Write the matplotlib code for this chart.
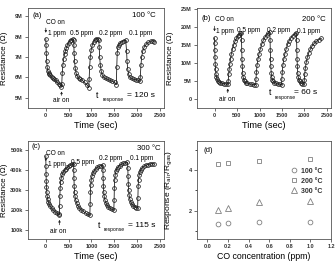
import matplotlib
matplotlib.use("Agg")
import matplotlib.pyplot as plt

plt.rcParams['font.family'] = ['Liberation Sans', 'DejaVu Sans']

# ---------------- data ----------------
# (a) 100 C, resistance in M-ohm
t_a = [0, 5, 10, 20, 30, 45, 60, 80, 100, 130, 160, 190, 220, 250, 280, 310, 340,
       350, 360, 375, 390, 410, 430, 450, 475, 500, 530, 560, 590, 610,
       615, 620, 630, 645, 665, 690, 720, 760, 800, 850, 900, 940,
       950, 960, 975, 995, 1020, 1050, 1080, 1110, 1140, 1160,
       1170, 1180, 1195, 1215, 1240, 1270, 1310, 1360, 1410, 1460, 1510, 1545,
       1555, 1565, 1580, 1600, 1630, 1670, 1710, 1750,
       1770, 1780, 1795, 1815, 1840, 1880, 1930, 1980, 2030, 2060,
       2070, 2085, 2100, 2125, 2160, 2200, 2250, 2300, 2350, 2380]
r_a = [7.9, 7.6, 7.2, 6.8, 6.5, 6.3, 6.2, 6.15, 6.1, 6.0, 5.95, 5.9, 5.85, 5.75, 5.7, 5.65, 5.55,
       5.7, 6.2, 6.6, 6.9, 7.15, 7.3, 7.45, 7.6, 7.7, 7.8, 7.85, 7.88, 7.85,
       7.6, 7.2, 6.8, 6.45, 6.2, 6.05, 5.95, 5.9, 5.85, 5.75, 5.65, 5.5,
       5.9, 6.5, 7.0, 7.35, 7.6, 7.75, 7.85, 7.9, 7.9, 7.85,
       7.5, 7.0, 6.6, 6.3, 6.1, 6.0, 5.95, 5.9, 5.85, 5.8, 5.75, 5.65,
       6.5, 7.2, 7.5, 7.6, 7.7, 7.75, 7.8, 7.82,
       7.3, 6.8, 6.4, 6.15, 6.0, 5.95, 5.9, 5.88, 5.85, 5.8,
       6.0, 6.6, 7.0, 7.3, 7.5, 7.62, 7.72, 7.78, 7.8, 7.75]

# (b) 200 C, resistance in M-ohm
t_b = [0, 3, 6, 10, 15, 22, 30, 40, 55, 75, 100, 130, 170, 210, 250, 295,
       305, 315, 325, 340, 355, 375, 400, 425, 455, 485, 515, 545, 575, 595,
       600, 605, 610, 617, 625, 635, 650, 670, 695, 730, 780, 830, 880, 915,
       922, 932, 945, 965, 990, 1020, 1050, 1085, 1120, 1160, 1200, 1230,
       1235, 1240, 1245, 1252, 1260, 1270, 1285, 1305, 1330, 1365, 1410, 1450, 1490,
       1497, 1507, 1520, 1540, 1565, 1595, 1625, 1660, 1700, 1740, 1780, 1820,
       1825, 1830, 1835, 1842, 1850, 1860, 1875, 1895, 1920, 1950, 1990,
       1997, 2007, 2020, 2040, 2065, 2095, 2130, 2170, 2215, 2265, 2320, 2375]
r_b = [17.0, 15.5, 13.5, 11.5, 9.8, 8.2, 7.0, 6.1, 5.4, 5.0, 4.7, 4.5, 4.3, 4.2, 4.1, 4.0,
       5.0, 6.8, 8.2, 9.8, 11.2, 12.6, 14.0, 15.0, 16.0, 16.8, 17.4, 17.9, 18.2, 18.4,
       16.5, 13.5, 11.0, 9.0, 7.3, 6.1, 5.3, 4.8, 4.5, 4.3, 4.1, 4.0, 3.9, 3.9,
       5.5, 7.5, 9.3, 11.0, 12.6, 14.0, 15.2, 16.3, 17.1, 17.8, 18.3, 18.5,
       16.5, 13.5, 11.0, 9.0, 7.3, 6.1, 5.3, 4.8, 4.5, 4.3, 4.1, 4.0, 3.9,
       5.5, 7.5, 9.3, 11.0, 12.6, 14.0, 15.2, 16.2, 17.0, 17.6, 18.0, 18.3,
       16.5, 13.5, 11.0, 9.0, 7.3, 6.1, 5.3, 4.8, 4.4, 4.2, 4.0,
       5.3, 7.0, 8.6, 10.2, 11.6, 12.8, 13.8, 14.7, 15.4, 16.0, 16.5, 16.8]

# (c) 300 C, resistance in k-ohm
t_c = [0, 3, 6, 10, 15, 22, 30, 40, 55, 75, 100, 130, 165, 200, 240, 280, 298,
       303, 308, 315, 325, 340, 360, 385, 410, 440, 470, 500, 540, 580, 608,
       613, 617, 622, 630, 640, 655, 675, 700, 730, 770, 820, 870, 920, 965,
       972, 978, 985, 995, 1010, 1030, 1060, 1090, 1130, 1170, 1210, 1245,
       1252, 1256, 1262, 1270, 1280, 1295, 1315, 1340, 1370, 1410, 1450, 1490,
       1497, 1502, 1510, 1520, 1535, 1555, 1580, 1615, 1655, 1700, 1745, 1790,
       1797, 1802, 1808, 1815, 1825, 1840, 1860, 1885, 1915, 1950, 1985, 2012,
       2018, 2024, 2032, 2045, 2062, 2085, 2115, 2150, 2190, 2235, 2285, 2335, 2380]
r_c = [470, 420, 380, 345, 315, 290, 270, 255, 240, 228, 218, 208, 200, 192, 185, 178, 175,
       220, 270, 310, 340, 362, 378, 390, 398, 406, 413, 418, 424, 428, 430,
       400, 360, 320, 290, 268, 250, 235, 222, 212, 202, 193, 185, 178, 173,
       230, 290, 325, 350, 368, 383, 396, 405, 413, 418, 422, 425,
       400, 360, 320, 290, 268, 250, 236, 225, 216, 208, 203, 198,
       250, 310, 350, 375, 393, 405, 414, 422, 428, 433, 436, 438,
       410, 370, 330, 300, 275, 255, 240, 230, 222, 216, 212, 210,
       260, 320, 352, 375, 390, 402, 411, 418, 423, 427, 430, 432, 430]

# (d) response vs CO concentration
conc = [0.1, 0.2, 0.5, 1.0]
resp_100 = [1.37, 1.41, 1.46, 1.47]
resp_200 = [4.28, 4.32, 4.45, 4.55]
resp_300 = [2.06, 2.15, 2.44, 2.49]
temp_labels = ['100 \u00b0C', '200 \u00b0C', '300 \u00b0C']

time_ticks = [0, 500, 1000, 1500, 2000, 2500]
ya_ticks = [5, 6, 7, 8, 9]
ya_labels = ['5M', '6M', '7M', '8M', '9M']
yb_ticks = [0, 5, 10, 15, 20, 25]
yb_labels = ['0', '5M', '10M', '15M', '20M', '25M']
yc_ticks = [100, 200, 300, 400, 500]
yc_labels = ['100k', '200k', '300k', '400k', '500k']
xd_ticks = [0.0, 0.2, 0.4, 0.6, 0.8, 1.0, 1.2]
yd_ticks = [2, 4]

# ---------------- figure ----------------
W, H = 336, 262
fig = plt.figure(figsize=(W / 100, H / 100), dpi=100)

def box(l, t, r, b):
    return [l / W, 1 - b / H, (r - l) / W, (b - t) / H]

axA = fig.add_axes(box(28, 8, 164, 108))
axB = fig.add_axes(box(197, 8, 331, 108))
axC = fig.add_axes(box(28, 141, 164, 239))
axD = fig.add_axes(box(197, 141, 331, 239))

dark = '#1e1e1e'
tick_fs = 4.0
lab_fs = 6.7

def style(ax):
    for s in ax.spines.values():
        s.set_linewidth(0.6)
        s.set_color('#555555')
    ax.tick_params(direction='out', length=2.2, width=0.5, pad=1.5,
                   labelsize=tick_fs, colors='#333333')
    for lbl in ax.get_xticklabels() + ax.get_yticklabels():
        lbl.set_fontweight('bold')

def curve(ax, t, r):
    ax.plot(t, r, '-o', color=dark, lw=0.6, ms=2.7, mfc='none',
            mec=dark, mew=0.55)

panels = [
    (axA, t_a, r_a, ya_ticks, ya_labels, (4.5, 9.4), -0.147),
    (axB, t_b, r_b, yb_ticks, yb_labels, (-2.6, 25.3), -0.175),
    (axC, t_c, r_c, yc_ticks, yc_labels, (55, 545), -0.147),
]
for ax, t, r, yt, yl, ylim, lx in panels:
    curve(ax, t, r)
    ax.set_xlim(-390, 2590)
    ax.set_ylim(*ylim)
    ax.set_xticks(time_ticks)
    ax.set_xticklabels([str(v) for v in time_ticks])
    ax.set_yticks(yt)
    ax.set_yticklabels(yl)
    ax.set_xlabel('Time (sec)', fontsize=lab_fs, labelpad=2)
    ax.set_ylabel('Resistance (\u03a9)', fontsize=5.8)
    ax.yaxis.set_label_coords(lx, 0.5)
    style(ax)

txt_fs = 4.7
arr = dict(arrowstyle='-|>', lw=0.5, color='#222222', mutation_scale=3)

def labels(ax, tag, tag_xy, co_xy, ppm_xy, temp, temp_xy, co_arrow,
           air_xy, air_arrow, tr_xy, tr_val):
    ax.text(*tag_xy, tag, fontsize=5.5, va='center', ha='left')
    ax.text(*co_xy, 'CO on', fontsize=txt_fs, va='center', ha='left')
    for (x, y), s in zip(ppm_xy, ['1 ppm', '0.5 ppm', '0.2 ppm', '0.1 ppm']):
        ax.text(x, y, s, fontsize=txt_fs, va='center', ha='left')
    ax.text(*temp_xy, temp, fontsize=5.6, va='center', ha='left')
    ax.annotate('', xy=co_arrow[1], xytext=co_arrow[0], arrowprops=arr)
    ax.text(*air_xy, 'air on', fontsize=txt_fs, va='center', ha='left')
    ax.annotate('', xy=air_arrow[1], xytext=air_arrow[0], arrowprops=arr)
    (tx, ty), (sx, sy), (ex, ey) = tr_xy
    ax.text(tx, ty, 't', fontsize=6.3, va='center', ha='left')
    ax.text(sx, sy, 'response', fontsize=3.6, va='center', ha='left')
    ax.text(ex, ey, '= ' + tr_val, fontsize=6.0, va='center', ha='left')

labels(axA, '(a)', (-300, 9.05), (15, 8.68),
       [(40, 8.17), (537, 8.17), (1163, 8.17), (1826, 8.17)],
       temp_labels[0], (1880, 9.05),
       ((0, 8.55), (0, 8.05)),
       (160, 4.86), ((345, 4.98), (345, 5.45)),
       ((1105, 5.13), (1238, 4.92), (1782, 5.13)), '120 s')

labels(axB, '(b)', (-300, 22.5), (0, 22.1),
       [(40, 18.7), (508, 18.9), (1170, 18.9), (1832, 18.7)],
       temp_labels[1], (1942, 22.1),
       ((0, 21.0), (0, 18.0)),
       (110, -0.2), ((294, 0.9), (294, 3.6)),
       ((1199, 1.6), (1330, 0.3), (1772, 1.6)), '60 s')

labels(axC, '(c)', (-312, 520), (13, 483),
       [(40, 429), (557, 437), (1171, 459), (1855, 459)],
       temp_labels[2], (2000, 508),
       ((0, 470), (0, 430)),
       (89, 91), ((300, 112), (300, 165)),
       ((1150, 121), (1262, 103), (1797, 121)), '115 s')

# ---------------- (d) ----------------
gray = '#808080'
axD.plot(conc, resp_100, 'o', ms=3.4, mfc='none', mec=gray, mew=0.6, ls='none',
         label=temp_labels[0])
axD.plot(conc, resp_200, 's', ms=3.4, mfc='none', mec=gray, mew=0.6, ls='none',
         label=temp_labels[1])
axD.plot(conc, resp_300, '^', ms=3.8, mfc='none', mec=gray, mew=0.6, ls='none',
         label=temp_labels[2])
axD.set_xlim(-0.1, 1.2)
axD.set_ylim(0.62, 5.42)
axD.set_xticks(xd_ticks)
axD.set_xticklabels(['%.1f' % v for v in xd_ticks])
axD.set_yticks(yd_ticks)
axD.set_yticklabels([str(v) for v in yd_ticks])
axD.set_yticks([1, 3, 5], minor=True)
axD.tick_params(which='minor', direction='out', length=1.5, width=0.5)
axD.set_xlabel('CO concentration (ppm)', fontsize=6.3, labelpad=2)
axD.set_ylabel(r'Response (R$_{\rm air}$/R$_{\rm gas}$)', fontsize=6.0)
axD.yaxis.set_label_coords(-0.165, 0.5)
style(axD)
axD.text(0.045, 0.9, '(d)', transform=axD.transAxes, fontsize=5.5,
         va='center', ha='left')
leg = axD.legend(loc='center left', bbox_to_anchor=(0.66, 0.59), frameon=False,
                 fontsize=5.0, handlelength=1.0, handletextpad=0.6,
                 labelspacing=0.45, borderpad=0.2)
for txt in leg.get_texts():
    txt.set_fontweight('bold')
    txt.set_color('#333333')

fig.savefig('out.png', dpi=100)
